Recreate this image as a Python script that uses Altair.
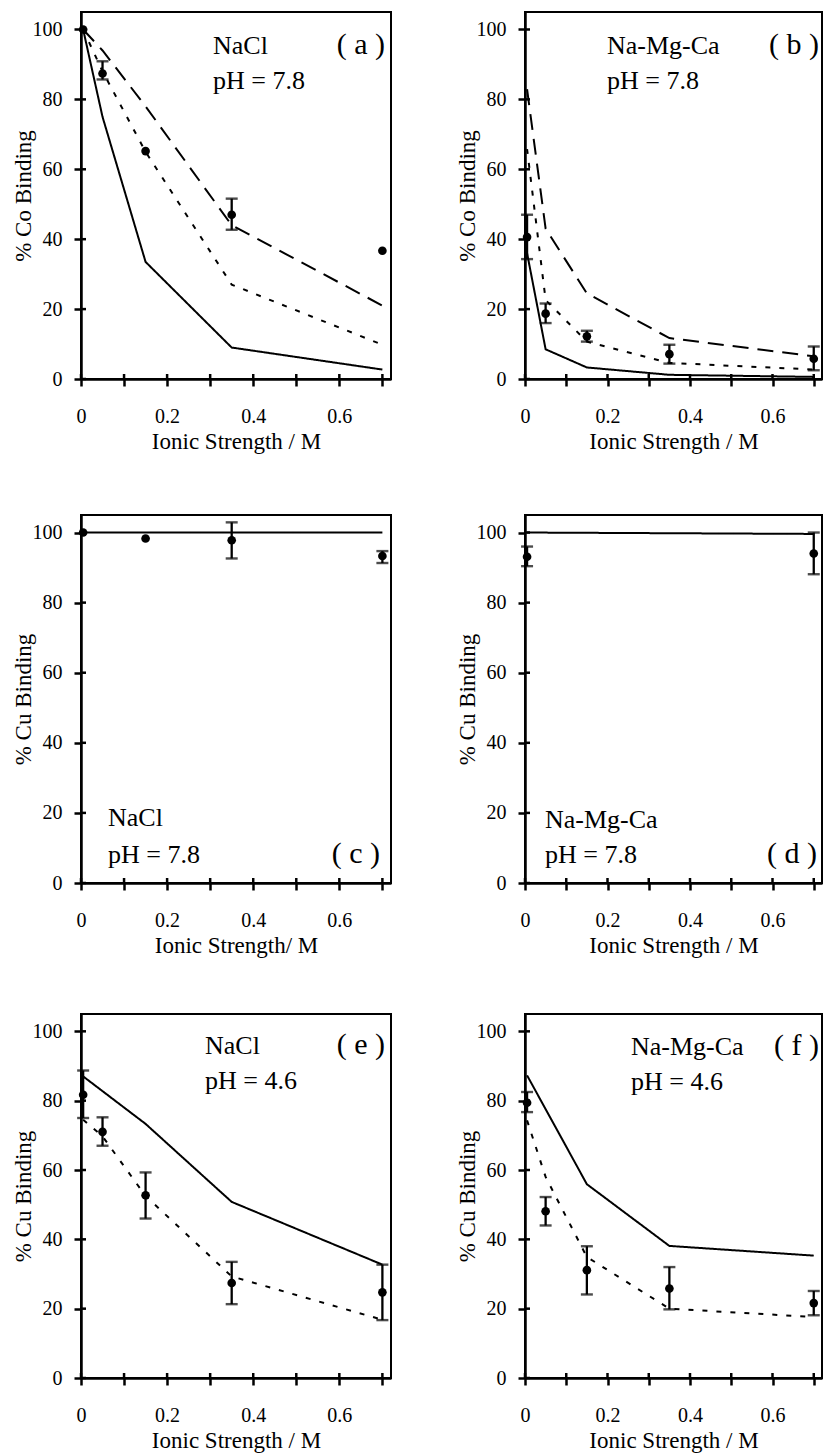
import altair as alt
import pandas as pd

FONT = "Liberation Serif"

X_TICKS = [0, 0.1, 0.2, 0.3, 0.4, 0.5, 0.6, 0.7]
Y_TICKS = [0, 20, 40, 60, 80, 100]

# ---------------- panel (a): Co, NaCl, pH 7.8
a_px = [0.005, 0.05, 0.15, 0.35, 0.7]
a_py = [100, 87.4, 65.2, 47.0, 36.7]
a_ex = [0.05, 0.35]
a_elo = [85.7, 42.7]
a_ehi = [90.9, 51.6]
a_lx = [0.005, 0.05, 0.15, 0.35, 0.7]
a_solid = [100, 75, 33.5, 9.0, 2.7]
a_dotted = [100, 88, 65, 27, 9.8]
a_dashed = [100, 94, 78, 44, 21]

# ---------------- panel (b): Co, Na-Mg-Ca, pH 7.8
b_px = [0.005, 0.05, 0.15, 0.35, 0.7]
b_py = [40.6, 18.7, 12.2, 7.1, 5.8]
b_ex = [0.005, 0.05, 0.15, 0.35, 0.7]
b_elo = [34.3, 16.0, 10.7, 4.4, 2.5]
b_ehi = [47.0, 21.6, 13.8, 9.8, 9.3]
b_lx = [0.005, 0.05, 0.15, 0.35, 0.7]
b_solid = [36, 8.5, 3.3, 1.2, 0.6]
b_dotted = [65.8, 22.6, 10.7, 4.6, 2.7]
b_dashed = [82.9, 43, 24.5, 11.7, 6.5]

# ---------------- panel (c): Cu, NaCl, pH 7.8
c_px = [0.005, 0.15, 0.35, 0.7]
c_py = [100, 98.3, 97.8, 93.3]
c_ex = [0.35, 0.7]
c_elo = [92.6, 91.3]
c_ehi = [102.9, 94.7]
c_lx = [0.005, 0.7]
c_solid = [100, 100]

# ---------------- panel (d): Cu, Na-Mg-Ca, pH 7.8
d_px = [0.005, 0.7]
d_py = [93.1, 94.0]
d_ex = [0.005, 0.7]
d_elo = [90.4, 88.1]
d_ehi = [96.0, 100.0]
d_lx = [0.005, 0.7]
d_solid = [100, 99.6]

# ---------------- panel (e): Cu, NaCl, pH 4.6
e_px = [0.005, 0.05, 0.15, 0.35, 0.7]
e_py = [81.7, 71.0, 52.7, 27.4, 24.7]
e_ex = [0.005, 0.05, 0.15, 0.35, 0.7]
e_elo = [75.0, 67.0, 46.0, 21.3, 16.7]
e_ehi = [88.7, 75.2, 59.3, 33.5, 32.7]
e_solid_x = [0.005, 0.15, 0.35, 0.7]
e_solid = [87, 73.3, 50.8, 32.7]
e_dotted_x = [0.005, 0.05, 0.15, 0.35, 0.7]
e_dotted = [74.5, 69.7, 52.5, 29.3, 16.8]

# ---------------- panel (f): Cu, Na-Mg-Ca, pH 4.6
f_px = [0.005, 0.05, 0.15, 0.35, 0.7]
f_py = [79.4, 48.1, 31.1, 25.8, 21.6]
f_ex = [0.005, 0.05, 0.15, 0.35, 0.7]
f_elo = [76.7, 44.0, 24.1, 19.8, 18.1]
f_ehi = [82.5, 52.2, 38.0, 32.0, 25.1]
f_solid_x = [0.005, 0.15, 0.35, 0.7]
f_solid = [87.3, 55.9, 38.1, 35.3]
f_dotted_x = [0.005, 0.05, 0.15, 0.35, 0.7]
f_dotted = [74.3, 58, 34.9, 20, 17.6]

# text labels
a_text = ["NaCl", "pH = 7.8", "( a )"]
b_text = ["Na-Mg-Ca", "pH = 7.8", "( b )"]
c_text = ["NaCl", "pH = 7.8", "( c )"]
d_text = ["Na-Mg-Ca", "pH = 7.8", "( d )"]
e_text = ["NaCl", "pH = 4.6", "( e )"]
f_text = ["Na-Mg-Ca", "pH = 4.6", "( f )"]

STYLES = ["solid", "dotted", "dashed"]
DASHES = [[1, 0], [5, 9], [16, 9]]

AXIS_COMMON = dict(
    domainColor="black", domainWidth=2.5, tickColor="black", tickWidth=2.5, tickSize=7,
    labelFont=FONT, labelFontSize=20, labelColor="black",
    titleFont=FONT, titleFontSize=23, titleFontWeight="normal", titleColor="black",
    grid=False, labelOverlap=False,
)

TF, LF = 26, 30  # annotation font sizes


def panel(px, py, ex, elo, ehi, lines, ytitle, xtitle, texts, tpos, width, height):
    xs = alt.Scale(domain=[0, 0.72], nice=False, zero=False)
    ys = alt.Scale(domain=[0, 105], nice=False, zero=False)
    xaxis = alt.Axis(
        values=X_TICKS,
        labelExpr="round(datum.value*10) % 2 == 0 ? format(datum.value, '.1~f') : ''",
        title=xtitle,
        labelFlush=False,
        labelPadding=20, titlePadding=4,
        **AXIS_COMMON,
    )
    yaxis = alt.Axis(values=Y_TICKS, title=ytitle, labelPadding=12, titlePadding=0,
                     minExtent=46, maxExtent=46, **AXIS_COMMON)

    rows = []
    for style, (lx, ly) in lines.items():
        for xv, yv in zip(lx, ly):
            rows.append({"x": xv, "y": yv, "style": style})
    ln = pd.DataFrame(rows)
    pts = pd.DataFrame({"x": px, "y": py})
    err = pd.DataFrame({"x": ex, "lo": elo, "hi": ehi})

    X = lambda f: alt.X(f, scale=xs, axis=xaxis)
    Y = lambda f: alt.Y(f, scale=ys, axis=yaxis)

    line_layer = alt.Chart(ln).mark_line(color="black", strokeWidth=2).encode(
        x=X("x:Q"), y=Y("y:Q"),
        detail="style:N",
        strokeDash=alt.StrokeDash("style:N", scale=alt.Scale(domain=STYLES, range=DASHES), legend=None),
    )
    bar = alt.Chart(err).mark_rule(color="black", strokeWidth=2.3).encode(
        x=X("x:Q"), y=Y("lo:Q"), y2="hi:Q")
    cap_lo = alt.Chart(err).mark_tick(color="black", orient="horizontal", size=12, thickness=2.4).encode(
        x=X("x:Q"), y=Y("lo:Q"))
    cap_hi = alt.Chart(err).mark_tick(color="black", orient="horizontal", size=12, thickness=2.4).encode(
        x=X("x:Q"), y=Y("hi:Q"))
    dots = alt.Chart(pts).mark_circle(color="black", opacity=1, size=75).encode(
        x=X("x:Q"), y=Y("y:Q"))

    ytk = alt.Chart(pd.DataFrame({"v": Y_TICKS})).mark_rule(color="black", strokeWidth=2.5).encode(
        y=Y("v:Q"), x=alt.value(0), x2=alt.value(5))
    xtk = alt.Chart(pd.DataFrame({"v": X_TICKS})).mark_rule(color="black", strokeWidth=2.5).encode(
        x=X("v:Q"), y=alt.value(height - 5), y2=alt.value(height))

    layers = [ytk, xtk, line_layer, bar, cap_lo, cap_hi, dots]
    for t, (tx, ty, al, fs) in zip(texts, tpos):
        layers.append(
            alt.Chart(pd.DataFrame({"t": [t]})).mark_text(
                font=FONT, fontSize=fs, align=al, baseline="alphabetic", color="black"
            ).encode(text="t:N", x=alt.value(tx), y=alt.value(ty))
        )
    return alt.layer(*layers).properties(width=width, height=height)


W1, W2 = 310, 297
H1, H2, H3 = 367, 368, 364
XT = "Ionic Strength / M"

pa = panel(a_px, a_py, a_ex, a_elo, a_ehi,
           {"solid": (a_lx, a_solid), "dotted": (a_lx, a_dotted), "dashed": (a_lx, a_dashed)},
           "% Co Binding", XT, a_text,
           [(132, 42, "left", TF), (132, 77, "left", TF), (W1 - 6, 42, "right", LF)], W1, H1)
pb = panel(b_px, b_py, b_ex, b_elo, b_ehi,
           {"solid": (b_lx, b_solid), "dotted": (b_lx, b_dotted), "dashed": (b_lx, b_dashed)},
           "% Co Binding", XT, b_text,
           [(82, 42, "left", TF), (82, 77, "left", TF), (W2 - 3, 42, "right", LF)], W2, H1)
pc = panel(c_px, c_py, c_ex, c_elo, c_ehi,
           {"solid": (c_lx, c_solid)},
           "% Cu Binding", "Ionic Strength/ M", c_text,
           [(27, 311, "left", TF), (27, 348, "left", TF), (W1 - 11, 348, "right", LF)], W1, H2)
pd_ = panel(d_px, d_py, d_ex, d_elo, d_ehi,
            {"solid": (d_lx, d_solid)},
            "% Cu Binding", XT, d_text,
            [(20, 313, "left", TF), (20, 348, "left", TF), (W2 - 5, 348, "right", LF)], W2, H2)
pe = panel(e_px, e_py, e_ex, e_elo, e_ehi,
           {"solid": (e_solid_x, e_solid), "dotted": (e_dotted_x, e_dotted)},
           "% Cu Binding", XT, e_text,
           [(124, 40, "left", TF), (124, 75, "left", TF), (W1 - 6, 40, "right", LF)], W1, H3)
pf = panel(f_px, f_py, f_ex, f_elo, f_ehi,
           {"solid": (f_solid_x, f_solid), "dotted": (f_dotted_x, f_dotted)},
           "% Cu Binding", XT, f_text,
           [(106, 41, "left", TF), (106, 76, "left", TF), (W2 - 3, 41, "right", LF)], W2, H3)

HS = 63
row1 = alt.hconcat(pa, pb, spacing=HS)
row2 = alt.hconcat(pc, pd_, spacing=HS)
row3 = alt.hconcat(pe, pf, spacing=HS)

chart = alt.vconcat(alt.vconcat(row1, row2, spacing=60), row3, spacing=55).properties(
    padding={"left": 3, "top": 3, "right": 0, "bottom": 0}
).configure_view(
    stroke="black", strokeWidth=2
)

chart.save("out.html", embed_options={"renderer": "svg", "actions": False})
